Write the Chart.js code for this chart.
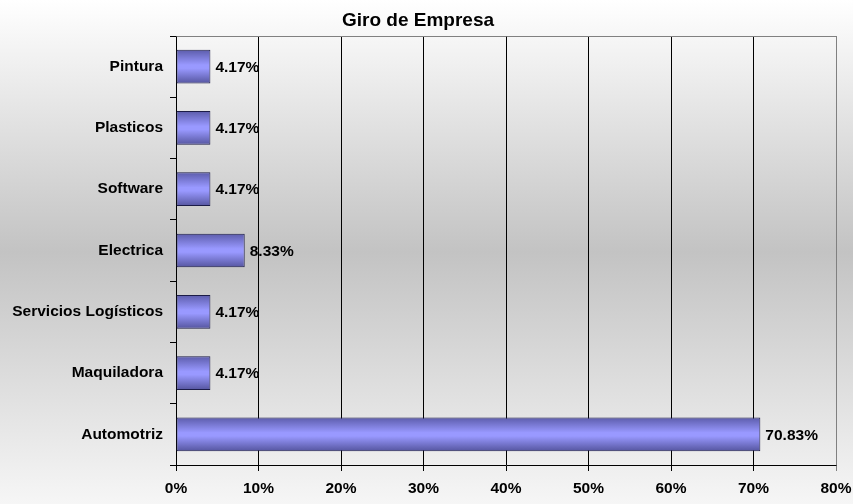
<!DOCTYPE html>
<html>
<head>
<meta charset="utf-8">
<script src="https://cdn.jsdelivr.net/npm/chart.js@4.4.0/dist/chart.umd.min.js"></script>
<style>
  html, body { margin: 0; padding: 0; background: #ffffff; }
  #wrap { width: 853px; height: 504px; }
</style>
</head>
<body>
<div id="wrap"><canvas id="giro" width="853" height="504"></canvas></div>
<script>
const categorias = ['Pintura', 'Plasticos', 'Software', 'Electrica', 'Servicios Logísticos', 'Maquiladora', 'Automotriz'];
const porcentajes = [4.17, 4.17, 4.17, 8.33, 4.17, 4.17, 70.83];
const ticksX = [0, 10, 20, 30, 40, 50, 60, 70, 80];

const fuente = 'Arial, "Liberation Sans", sans-serif';
const anchoBarra = 0.55;

// fondo degradado vertical, blanco arriba, gris al centro
const fondo = {
    id: 'fondo',
    beforeDraw(chart) {
        const c = chart.ctx;
        const g = c.createLinearGradient(0, 0, 0, chart.height);
        g.addColorStop(0, '#ffffff');
        g.addColorStop(0.5, '#c3c3c3');
        g.addColorStop(1, '#f6f6f6');
        c.save();
        c.fillStyle = g;
        c.fillRect(0, 0, chart.width, chart.height);
        c.restore();
    }
};

// borde gris arriba y a la derecha del area de trazado
const borde = {
    id: 'borde',
    afterDraw(chart) {
        const a = chart.chartArea;
        const c = chart.ctx;
        c.save();
        c.strokeStyle = '#808080';
        c.lineWidth = 1;
        c.beginPath();
        c.moveTo(Math.round(a.left) + 0.5, Math.round(a.top) + 0.5);
        c.lineTo(Math.round(a.right) + 0.5, Math.round(a.top) + 0.5);
        c.lineTo(Math.round(a.right) + 0.5, Math.round(a.bottom) + 0.5);
        c.stroke();
        c.restore();
    }
};

// etiquetas de porcentaje al final de cada barra
const etiquetas = {
    id: 'etiquetas',
    afterDatasetsDraw(chart) {
        const c = chart.ctx;
        const meta = chart.getDatasetMeta(0);
        c.save();
        c.font = 'bold 15.5px ' + fuente;
        c.fillStyle = '#000000';
        c.textAlign = 'left';
        c.textBaseline = 'middle';
        meta.data.forEach((bar, i) => {
            c.fillText(porcentajes[i].toFixed(2) + '%', bar.x + 5, bar.y + 1);
        });
        c.restore();
    }
};

function colorBarra(ctx) {
    const chart = ctx.chart;
    const y = chart.scales.y;
    if (!chart.chartArea || !y) return '#9999ff';
    const centro = y.getPixelForTick(ctx.dataIndex);
    const mitad = (y.height / categorias.length) * anchoBarra / 2;
    const g = chart.ctx.createLinearGradient(0, centro - mitad, 0, centro + mitad);
    g.addColorStop(0, '#5c5cab');
    g.addColorStop(0.45, '#9999ff');
    g.addColorStop(0.55, '#9999ff');
    g.addColorStop(1, '#55559f');
    return g;
}

new Chart(document.getElementById('giro'), {
    type: 'bar',
    data: {
        labels: categorias,
        datasets: [{
            data: porcentajes,
            backgroundColor: colorBarra,
            borderColor: '#1c1c48',
            borderWidth: 1,
            borderSkipped: false,
            categoryPercentage: 1,
            barPercentage: anchoBarra
        }]
    },
    options: {
        indexAxis: 'y',
        responsive: false,
        animation: false,
        layout: { padding: { left: 0, right: 17, top: 0, bottom: 0 } },
        plugins: {
            legend: { display: false },
            tooltip: { enabled: false },
            title: {
                display: true,
                text: 'Giro de Empresa',
                color: '#000000',
                font: { family: fuente, size: 19, weight: 'bold' },
                padding: { top: 9, bottom: 4.2 }
            }
        },
        scales: {
            x: {
                min: 0,
                max: 80,
                afterBuildTicks(axis) {
                    axis.ticks = ticksX.map(v => ({ value: v }));
                },
                afterFit(axis) {
                    axis.height = 39;
                    axis.paddingLeft = 0;
                    axis.paddingRight = 0;
                },
                ticks: {
                    color: '#000000',
                    font: { family: fuente, size: 15.5, weight: 'bold' },
                    padding: 8,
                    maxRotation: 0,
                    callback: v => v + '%'
                },
                grid: {
                    color: ctx => (ctx.tick && ctx.tick.value === 80 ? '#808080' : '#000000'),
                    lineWidth: 1,
                    tickLength: 6
                },
                border: { color: '#000000', width: 1 }
            },
            y: {
                afterFit(axis) { axis.width = 176; },
                ticks: {
                    color: '#000000',
                    font: { family: fuente, size: 15.5, weight: 'bold' },
                    padding: 7
                },
                grid: {
                    offset: true,
                    drawOnChartArea: false,
                    color: '#000000',
                    tickLength: 6
                },
                border: { color: '#000000', width: 1 }
            }
        }
    },
    plugins: [fondo, borde, etiquetas]
});
</script>
</body>
</html>
